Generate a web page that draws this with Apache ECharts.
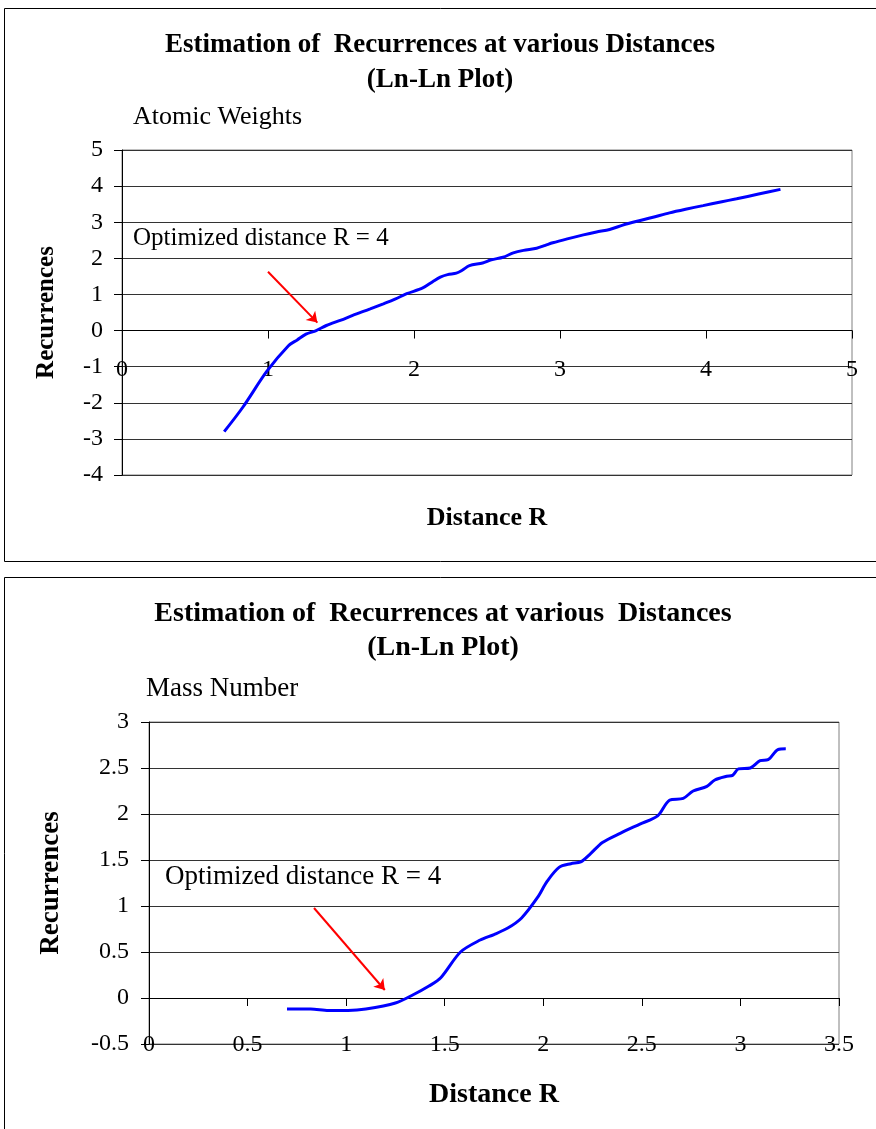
<!DOCTYPE html>
<html>
<head>
<meta charset="utf-8">
<script src="https://cdn.jsdelivr.net/npm/echarts@6/dist/echarts.min.js"></script>
<style>
  html, body { margin: 0; background: #fff; }
  #main { width: 876px; height: 1129px; }
</style>
</head>
<body>
<div id="main"></div>
<script>
// ln(R) vs ln(recurrences)
const atomicX = [0.70, 0.83, 0.99, 1.14, 1.20, 1.26, 1.33, 1.40, 1.50, 1.58, 1.70, 1.79, 1.87, 1.95, 2.06, 2.13, 2.18, 2.23, 2.29, 2.33, 2.38, 2.47, 2.53, 2.61, 2.68, 2.75, 2.84, 2.90, 2.95, 3.05, 3.16, 3.25, 3.34, 3.43, 3.52, 3.63, 3.75, 3.86, 3.98, 4.10, 4.21, 4.36, 4.51]
const atomicY = [-2.80, -2.11, -1.14, -0.42, -0.26, -0.10, 0.00, 0.14, 0.29, 0.42, 0.60, 0.74, 0.87, 1.02, 1.18, 1.36, 1.48, 1.55, 1.59, 1.67, 1.80, 1.87, 1.96, 2.03, 2.15, 2.22, 2.28, 2.36, 2.43, 2.54, 2.65, 2.73, 2.80, 2.92, 3.02, 3.13, 3.26, 3.36, 3.46, 3.56, 3.65, 3.78, 3.91]

const massX = [0.70, 0.82, 0.91, 1.01, 1.10, 1.25, 1.34, 1.42, 1.48, 1.58, 1.68, 1.75, 1.82, 1.89, 1.97, 2.02, 2.08, 2.14, 2.19, 2.24, 2.30, 2.39, 2.49, 2.58, 2.64, 2.71, 2.76, 2.83, 2.87, 2.93, 2.96, 2.99, 3.05, 3.10, 3.14, 3.19, 3.23]
const massY = [-0.12, -0.12, -0.135, -0.135, -0.12, -0.055, 0.035, 0.13, 0.22, 0.50, 0.63, 0.69, 0.76, 0.87, 1.09, 1.27, 1.42, 1.46, 1.48, 1.57, 1.69, 1.79, 1.89, 1.98, 2.15, 2.17, 2.25, 2.30, 2.37, 2.41, 2.42, 2.49, 2.50, 2.58, 2.59, 2.70, 2.71]

// arrow ends, in data units: [from, to]
const atomicArrow = [[1.0, 1.63], [1.338, 0.22]]
const massArrow = [[0.837, 0.978], [1.196, 0.087]]

const titleText = 'Estimation of  Recurrences at various Distances'
const titleText2 = 'Estimation of  Recurrences at various  Distances'
const subTitle = '(Ln-Ln Plot)'
const noteText = 'Optimized distance R = 4'

const serif = "'Times New Roman', 'Liberation Serif', serif"

const grids = [
  {left: 122, top: 150, width: 730, height: 325},
  {left: 149, top: 722, width: 690, height: 322},
]

function zip(xs, ys) {
  return xs.map((x, i) => [x, ys[i]])
}

function text(str, x, y, size, bold, align) {
  return {
    type: 'text',
    x, y,
    style: {
      text: str,
      font: (bold ? 'bold ' : '') + size + 'px ' + serif,
      fill: '#000',
      textAlign: align || 'left',
      textVerticalAlign: 'middle',
    },
  }
}

// x axis sits on y = 0, so shift it up from the grid bottom
function xAxisCfg(grid, max, interval, yMin, yMax, margin, nameGap, nameSize, labelSize) {
  const offset = -grids[grid].height * (0 - yMin) / (yMax - yMin)
  return {
    type: 'value',
    gridIndex: grid,
    min: 0, max, interval,
    position: 'bottom',
    offset,
    name: 'Distance R',
    nameLocation: 'middle',
    nameGap,
    nameMoveOverlap: false,
    nameTextStyle: {fontFamily: serif, fontWeight: 'bold', fontSize: nameSize, color: '#000'},
    axisLine: {onZero: false, lineStyle: {color: '#000', width: 1}},
    axisTick: {show: true, inside: false, length: 8, lineStyle: {color: '#000'}},
    axisLabel: {margin, fontFamily: serif, fontSize: labelSize, color: '#000'},
    splitLine: {show: false},
  }
}

function yAxisCfg(grid, min, max, interval, margin, nameGap, nameSize, labelSize) {
  return {
    type: 'value',
    gridIndex: grid,
    min, max, interval,
    name: 'Recurrences',
    nameLocation: 'middle',
    nameRotate: 90,
    nameGap,
    nameMoveOverlap: false,
    nameTextStyle: {fontFamily: serif, fontWeight: 'bold', fontSize: nameSize, color: '#000'},
    axisLine: {show: true, onZero: false, lineStyle: {color: '#000', width: 1}},
    axisTick: {show: true, inside: false, length: 8, lineStyle: {color: '#000'}},
    axisLabel: {margin, fontFamily: serif, fontSize: labelSize, color: '#000'},
    splitLine: {show: true, lineStyle: {color: '#333', width: 1}},
  }
}

function lineSeries(idx, data, arrow) {
  return {
    type: 'line',
    xAxisIndex: idx,
    yAxisIndex: idx,
    data,
    smooth: 0.3,
    symbol: 'none',
    lineStyle: {color: '#0000ff', width: 3},
    markLine: {
      silent: true,
      symbol: ['none', 'arrow'],
      symbolSize: 10,
      label: {show: false},
      lineStyle: {color: '#ff0000', width: 2, type: 'solid'},
      data: [[{coord: arrow[0]}, {coord: arrow[1]}]],
    },
  }
}

const chart = echarts.init(document.getElementById('main'))

chart.setOption({
  animation: false,
  backgroundColor: '#fff',
  grid: grids.map(g => Object.assign({show: true, borderColor: '#808080', borderWidth: 1}, g)),
  xAxis: [
    xAxisCfg(0, 5, 1, -4, 5, 27, 175, 26, 24),
    xAxisCfg(1, 3.5, 0.5, -0.5, 3, 35, 83, 28, 24),
  ],
  yAxis: [
    yAxisCfg(0, -4, 5, 1, 19, 63, 25, 24),
    yAxisCfg(1, -0.5, 3, 0.5, 20, 84, 27, 24),
  ],
  series: [
    lineSeries(0, zip(atomicX, atomicY), atomicArrow),
    lineSeries(1, zip(massX, massY), massArrow),
  ],
  graphic: [
    {type: 'rect', shape: {x: 4.5, y: 8.5, width: 880, height: 553}, style: {fill: 'none', stroke: '#000', lineWidth: 1}},
    {type: 'rect', shape: {x: 4.5, y: 577.5, width: 880, height: 600}, style: {fill: 'none', stroke: '#000', lineWidth: 1}},
    text(titleText, 440, 45, 27, true, 'center'),
    text(subTitle, 440, 80, 27, true, 'center'),
    text('Atomic Weights', 133, 117, 26, false),
    text(noteText, 133, 238, 25, false),
    text(titleText2, 443, 614, 28, true, 'center'),
    text(subTitle, 443, 648, 28, true, 'center'),
    text('Mass Number', 146, 689, 27, false),
    text(noteText, 165, 877, 27, false),
  ],
})
</script>
</body>
</html>
